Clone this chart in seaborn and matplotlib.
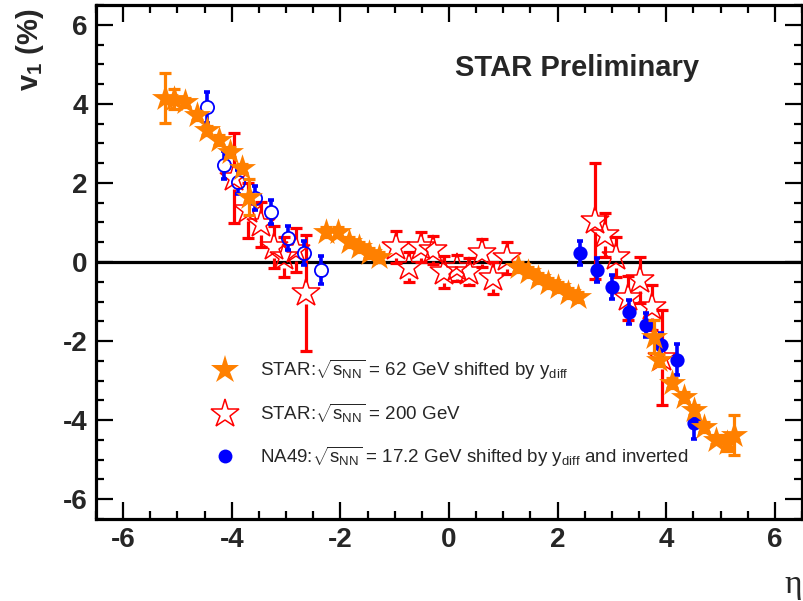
import numpy as np
import matplotlib
matplotlib.use('Agg')
import matplotlib.pyplot as plt
import seaborn as sns
from matplotlib.lines import Line2D

# STAR 62 GeV (shifted by y_diff)
eta_62 = [-5.23, -5.07, -4.86, -4.64, -4.46, -4.24, -4.04, -3.82, -3.69,
          -2.26, -2.04, -1.84, -1.66, -1.48, -1.29,
          1.27, 1.45, 1.64, 1.82, 2.00, 2.19, 2.37,
          3.78, 3.87, 4.11, 4.33, 4.51, 4.70, 4.92, 5.12, 5.25]
v1_62 = [4.14, 4.12, 4.04, 3.71, 3.33, 3.08, 2.78, 2.37, 1.65,
         0.76, 0.76, 0.50, 0.38, 0.23, 0.13,
         -0.13, -0.25, -0.40, -0.53, -0.63, -0.78, -0.88,
         -1.89, -2.47, -3.06, -3.41, -3.74, -4.17, -4.49, -4.57, -4.37]
err_62 = [0.63, 0.25, 0.12, 0.12, 0.12, 0.12, 0.12, 0.12, 0.45,
          0.12, 0.12, 0.12, 0.12, 0.12, 0.12,
          0.12, 0.12, 0.12, 0.12, 0.12, 0.12, 0.12,
          0.42, 0.15, 0.12, 0.12, 0.12, 0.12, 0.12, 0.20, 0.50]

# STAR 200 GeV
eta_200 = [-3.95, -3.71, -3.47, -3.23, -3.03, -2.81, -2.63,
           -0.98, -0.74, -0.52, -0.30, -0.10, 0.15, 0.36, 0.61, 0.81, 1.07,
           2.68, 2.88, 3.08, 3.29, 3.51, 3.73, 3.93]
v1_200 = [2.12, 1.31, 0.96, 0.38, 0.13, 0.30, -0.78,
          0.38, -0.13, 0.38, 0.30, -0.25, -0.15, -0.25, 0.23, -0.40, 0.10,
          1.04, 0.68, 0.13, -0.91, -0.45, -1.14, -2.42]
err_200 = [1.14, 0.70, 0.57, 0.52, 0.50, 0.55, 1.47,
           0.40, 0.38, 0.38, 0.36, 0.40, 0.33, 0.34, 0.36, 0.40, 0.40,
           1.47, 0.55, 0.50, 0.55, 0.58, 0.57, 1.20]

# NA49 17.2 GeV, reflected (open) and shifted + inverted (filled)
eta_na49_open = [-4.46, -4.15, -3.88, -3.58, -3.27, -2.96, -2.67, -2.36]
v1_na49_open = [3.91, 2.45, 2.02, 1.62, 1.26, 0.61, 0.22, -0.20]
err_na49_open = [0.40, 0.35, 0.30, 0.30, 0.30, 0.30, 0.30, 0.35]
eta_na49 = [2.41, 2.72, 3.01, 3.32, 3.63, 3.91, 4.20, 4.51]
v1_na49 = [0.23, -0.20, -0.63, -1.26, -1.59, -2.10, -2.47, -4.07]
err_na49 = [0.30, 0.30, 0.30, 0.30, 0.30, 0.30, 0.40, 0.40]

labels = [r'STAR:$\sqrt{\mathrm{s_{NN}}}$ = 62 GeV shifted by y$_{\mathrm{diff}}$',
          r'STAR:$\sqrt{\mathrm{s_{NN}}}$ = 200 GeV',
          r'NA49:$\sqrt{\mathrm{s_{NN}}}$ = 17.2 GeV shifted by y$_{\mathrm{diff}}$ and inverted']

ORANGE = '#ff8000'
RED = '#ff0000'
BLUE = '#0000ff'

sns.set_theme(style='ticks')
plt.rcParams['font.family'] = ['Liberation Sans', 'DejaVu Sans']
plt.rcParams['mathtext.fontset'] = 'custom'
plt.rcParams['mathtext.rm'] = 'Liberation Sans'
plt.rcParams['mathtext.it'] = 'Liberation Sans:italic'
plt.rcParams['mathtext.bf'] = 'Liberation Sans:bold'
plt.rcParams['axes.unicode_minus'] = False


def gapped_bars(ax, x, y, err, gap, color, cap, lw, z):
    # ROOT style: bar stops at the marker edge
    x, y, err = np.asarray(x), np.asarray(y), np.asarray(err)
    reach = np.maximum(err, gap)
    ax.vlines(x, y + gap, y + reach, colors=color, lw=lw, zorder=z)
    ax.vlines(x, y - reach, y - gap, colors=color, lw=lw, zorder=z)
    for sign in (1, -1):
        ax.plot(x, y + sign * err, ls='none', marker='_', ms=cap, mew=lw,
                color=color, zorder=z)


fig = plt.figure(figsize=(8.04, 6.01), dpi=100)
ax = fig.add_axes([96 / 804, 1 - 519 / 601, 706 / 804, 514 / 601])

ax.axhline(0, color='black', lw=2.3, zorder=1)

# 200 GeV open stars
gapped_bars(ax, eta_200, v1_200, err_200, 0.28, RED, 9, 2.3, 2)
ax.plot(eta_200, v1_200, ls='none', marker='*', ms=21, mfc='none',
        mec=RED, mew=1.1, zorder=3)

# NA49
gapped_bars(ax, eta_na49_open, v1_na49_open, err_na49_open, 0.16, BLUE, 5, 2.6, 4)
ax.plot(eta_na49_open, v1_na49_open, ls='none', marker='o', ms=9.5,
        mfc='none', mec=BLUE, mew=1.3, zorder=5)
ax.errorbar(eta_na49, v1_na49, yerr=err_na49, fmt='none', ecolor=BLUE,
            elinewidth=2.6, capsize=2.5, capthick=2.6, zorder=4)
sns.scatterplot(x=eta_na49, y=v1_na49, marker='o', s=105, color=BLUE,
                edgecolor=BLUE, linewidth=0, ax=ax, zorder=5)

# 62 GeV filled stars
ax.errorbar(eta_62, v1_62, yerr=err_62, fmt='none', ecolor=ORANGE,
            elinewidth=2.3, capsize=4.5, capthick=2.3, zorder=6)
sns.scatterplot(x=eta_62, y=v1_62, marker='*', s=420, color=ORANGE,
                edgecolor=ORANGE, linewidth=0, ax=ax, zorder=7)

ax.set_xlim(-6.46, 6.46)
ax.set_ylim(-6.5, 6.5)
ax.set_xticks(np.arange(-6, 7, 2))
ax.set_yticks(np.arange(-6, 7, 2))
ax.set_xticks(np.arange(-6.5, 6.6, 0.5), minor=True)
ax.set_yticks(np.arange(-6.5, 6.6, 0.5), minor=True)
ax.tick_params(which='both', direction='in', top=True, right=True,
               width=1.6, color='black')
ax.tick_params(which='major', length=12, pad=6, labelsize=20)
ax.tick_params(which='minor', length=5.5)
for lab in ax.get_xticklabels() + ax.get_yticklabels():
    lab.set_fontweight('bold')
for sp in ax.spines.values():
    sp.set_linewidth(2.3)
    sp.set_color('black')
ax.set_xlabel('')
ax.set_ylabel('')

ax.text(0.508, 0.877, 'STAR Preliminary', transform=ax.transAxes,
        fontsize=21, fontweight='bold', va='center', ha='left')

handles = [Line2D([], [], ls='none', marker='*', ms=21, color=ORANGE, mew=0),
           Line2D([], [], ls='none', marker='*', ms=21, mfc='none', mec=RED, mew=1.1),
           Line2D([], [], ls='none', marker='o', ms=10, color=BLUE, mew=0)]
ax.legend(handles, labels, loc='upper left', bbox_to_anchor=(0.169, 0.313),
          frameon=False, fontsize=13.5, handlelength=1.0, handletextpad=1.4,
          labelspacing=1.05, borderpad=0, borderaxespad=0)

fig.text(30 / 804, 1 - 8 / 601, r'v$_{\mathbf{1}}$ (%)', rotation=90,
         fontsize=21, fontweight='bold', ha='center', va='top')
fig.text(793 / 804, 1 - 585 / 601, 'η', fontsize=24, ha='center', va='center',
         family=['Liberation Serif', 'DejaVu Serif'])

fig.savefig('out.png', dpi=100)
